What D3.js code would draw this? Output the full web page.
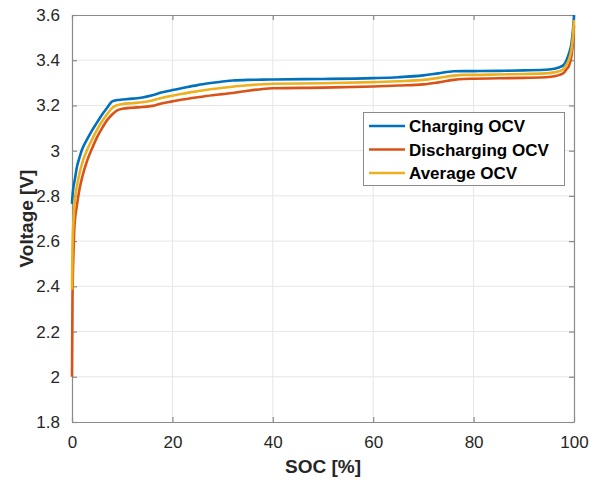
<!DOCTYPE html>
<html>
<head>
<meta charset="utf-8">
<script src="https://cdn.jsdelivr.net/npm/d3@7"></script>
<style>
  body { margin: 0; background: #fff; }
  svg { display: block; font-family: "Liberation Sans", Arial, Helvetica, sans-serif; }
</style>
</head>
<body>
<svg id="chart" width="600" height="481"></svg>
<script>
// ---- data ----
const soc = [0, 0.1, 0.3, 0.5, 1, 1.5, 2, 3, 4, 5, 6, 7, 8, 9, 10, 12, 14, 16, 18, 20, 22, 25, 28, 30, 32, 35, 38, 40, 50, 60, 65, 70, 73, 76, 78, 80, 85, 90, 95, 97, 98, 98.5, 99, 99.5, 99.8, 100];

const chargingOCV = [2.765, 2.80, 2.84, 2.865, 2.93, 2.97, 3.005, 3.05, 3.09, 3.125, 3.16, 3.19, 3.218, 3.224, 3.226, 3.23, 3.235, 3.245, 3.258, 3.268, 3.277, 3.29, 3.30, 3.306, 3.31, 3.313, 3.314, 3.315, 3.317, 3.321, 3.325, 3.333, 3.342, 3.351, 3.352, 3.352, 3.353, 3.355, 3.359, 3.368, 3.38, 3.40, 3.43, 3.475, 3.535, 3.6];

const dischargingOCV = [2.0, 2.35, 2.55, 2.67, 2.76, 2.83, 2.88, 2.955, 3.01, 3.06, 3.10, 3.135, 3.16, 3.178, 3.185, 3.19, 3.193, 3.198, 3.21, 3.218, 3.226, 3.236, 3.245, 3.25, 3.255, 3.265, 3.273, 3.276, 3.279, 3.284, 3.288, 3.293, 3.302, 3.313, 3.317, 3.318, 3.32, 3.322, 3.326, 3.334, 3.345, 3.36, 3.375, 3.42, 3.48, 3.555];

const averageOCV = [2.385, 2.575, 2.69, 2.765, 2.845, 2.90, 2.943, 3.003, 3.05, 3.093, 3.13, 3.162, 3.189, 3.201, 3.206, 3.21, 3.214, 3.222, 3.234, 3.243, 3.252, 3.263, 3.273, 3.278, 3.283, 3.289, 3.294, 3.296, 3.298, 3.303, 3.307, 3.313, 3.322, 3.332, 3.335, 3.335, 3.337, 3.339, 3.343, 3.351, 3.363, 3.38, 3.403, 3.448, 3.508, 3.578];

const seriesNames = ["Charging OCV", "Discharging OCV", "Average OCV"];
const seriesColors = ["#0072BD", "#D95319", "#EDB120"];
const xTicks = [0, 20, 40, 60, 80, 100];
const yTicks = [1.8, 2, 2.2, 2.4, 2.6, 2.8, 3, 3.2, 3.4, 3.6];
const xLabel = "SOC [%]";
const yLabel = "Voltage [V]";

// ---- layout ----
const svg = d3.select("#chart");
const L = 72, R = 574, T = 15, B = 422;
const x = d3.scaleLinear().domain([0, 100]).range([L, R]);
const y = d3.scaleLinear().domain([1.8, 3.6]).range([B, T]);

const axisColor = "#8a8a8a";
const textColor = "#262626";

// grid
const g = svg.append("g");
g.selectAll("line.gx").data(xTicks.slice(1, -1)).join("line")
  .attr("x1", d => x(d)).attr("x2", d => x(d)).attr("y1", T).attr("y2", B)
  .attr("stroke", "#e6e6e6").attr("stroke-width", 1);
g.selectAll("line.gy").data(yTicks.slice(1, -1)).join("line")
  .attr("y1", d => y(d)).attr("y2", d => y(d)).attr("x1", L).attr("x2", R)
  .attr("stroke", "#e6e6e6").attr("stroke-width", 1);

// axes
const fmt = d => d3.format("")(+d.toFixed(1));
const xAxis = svg.append("g").attr("transform", `translate(0,${B})`)
  .call(d3.axisBottom(x).tickValues(xTicks).tickSizeInner(-5).tickSizeOuter(0).tickPadding(14).tickFormat(fmt));
const xAxisTop = svg.append("g").attr("transform", `translate(0,${T})`)
  .call(d3.axisTop(x).tickValues(xTicks).tickSizeInner(-5).tickSizeOuter(0).tickFormat(""));
const yAxis = svg.append("g").attr("transform", `translate(${L},0)`)
  .call(d3.axisLeft(y).tickValues(yTicks).tickSizeInner(-5).tickSizeOuter(0).tickPadding(12).tickFormat(fmt));
const yAxisR = svg.append("g").attr("transform", `translate(${R},0)`)
  .call(d3.axisRight(y).tickValues(yTicks).tickSizeInner(-5).tickSizeOuter(0).tickFormat(""));

[xAxis, xAxisTop, yAxis, yAxisR].forEach(a => {
  a.select(".domain").attr("stroke", axisColor).attr("stroke-width", 1.2);
  a.selectAll(".tick line").attr("stroke", axisColor).attr("stroke-width", 1.2);
  a.selectAll(".tick text").attr("fill", textColor).attr("font-size", 17)
    .attr("font-family", "'Liberation Sans', Arial, Helvetica, sans-serif");
});

// lines
const seriesData = [chargingOCV, dischargingOCV, averageOCV];
const line = d3.line().x(d => x(d[0])).y(d => y(d[1])).curve(d3.curveMonotoneX);
seriesData.forEach((vals, i) => {
  svg.append("path")
    .datum(soc.map((s, j) => [s, vals[j]]))
    .attr("fill", "none")
    .attr("stroke", seriesColors[i])
    .attr("stroke-width", 2.6)
    .attr("stroke-linejoin", "round")
    .attr("d", line);
});

// axis titles
svg.append("text").attr("x", (L + R) / 2).attr("y", 473)
  .attr("text-anchor", "middle").attr("font-weight", "bold").attr("font-size", 19)
  .attr("fill", textColor).text(xLabel);
svg.append("text").attr("transform", `translate(33,${(T + B) / 2}) rotate(-90)`)
  .attr("text-anchor", "middle").attr("font-weight", "bold").attr("font-size", 19)
  .attr("fill", textColor).text(yLabel);

// legend
const lg = svg.append("g");
lg.append("rect").attr("x", 363.5).attr("y", 112.5).attr("width", 201).attr("height", 73)
  .attr("fill", "#fff").attr("stroke", axisColor).attr("stroke-width", 1);
seriesNames.forEach((name, i) => {
  const cy = 126 + i * 23.5;
  lg.append("line").attr("x1", 369).attr("x2", 405).attr("y1", cy).attr("y2", cy)
    .attr("stroke", seriesColors[i]).attr("stroke-width", 2.6);
  lg.append("text").attr("x", 409).attr("y", cy).attr("dy", "0.36em")
    .attr("font-weight", "bold").attr("font-size", 17).attr("fill", "#000").text(name);
});
</script>
</body>
</html>
